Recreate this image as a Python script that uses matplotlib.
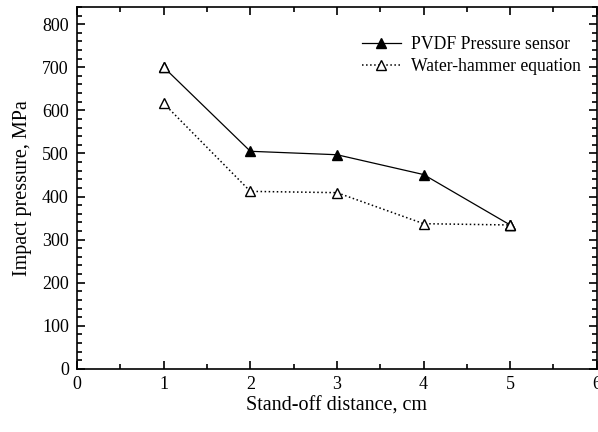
import numpy as np
import matplotlib.pyplot as plt
from matplotlib.ticker import MultipleLocator

plt.rcParams['font.family'] = ['Liberation Serif', 'DejaVu Serif']

distance = [1, 2, 3, 4, 5]
pvdf = [700, 505, 497, 451, 334]
water_hammer = [616, 412, 409, 337, 334]
# points of the sensor series drawn with open markers in the reference
pvdf_open = [0, 4]

fig = plt.figure(figsize=(5.98, 4.32), dpi=100)
ax = fig.add_axes([0.129, 0.146, 0.869, 0.838])

ax.plot(distance, pvdf, color='black', lw=0.9, marker='^', ms=7.5,
        mfc='black', mec='black', label='PVDF Pressure sensor')
ax.plot([distance[i] for i in pvdf_open], [pvdf[i] for i in pvdf_open],
        ls='none', marker='^', ms=7.5, mfc='white', mec='black', mew=1.0)
ax.plot(distance, water_hammer, color='black', lw=1.1, ls=':', marker='^', ms=7.5,
        mfc='white', mec='black', mew=1.0, label='Water-hammer equation')

ax.set_xlim(0, 6)
ax.set_ylim(0, 840)
ax.xaxis.set_major_locator(MultipleLocator(1))
ax.xaxis.set_minor_locator(MultipleLocator(0.5))
ax.yaxis.set_minor_locator(MultipleLocator(20))
ax.set_yticks(np.arange(0, 801, 100))
ax.tick_params(which='both', direction='in', top=True, right=True, labelsize=13,
               width=1.2)
ax.tick_params(axis='x', pad=5)
ax.tick_params(axis='y', pad=6)
ax.tick_params(which='major', length=6)
ax.tick_params(which='minor', length=3.5)
for s in ax.spines.values():
    s.set_linewidth(1.2)

ax.set_xlabel('Stand-off distance, cm', fontsize=14.5, labelpad=3)
ax.set_ylabel('Impact pressure, MPa', fontsize=14.5, labelpad=7)

ax.legend(loc='upper left', bbox_to_anchor=(362 / 598, 1 - 36 / 432),
          bbox_transform=fig.transFigure, frameon=False, borderpad=0,
          borderaxespad=0, fontsize=12.7, handlelength=2.2, handletextpad=0.6,
          labelspacing=0.3)

fig.savefig('out.png', dpi=100)
